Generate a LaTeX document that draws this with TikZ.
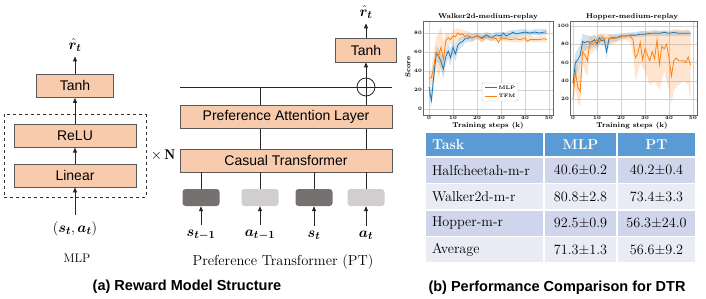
\documentclass[tikz,border=0pt]{standalone}
\usepackage{fontspec}
\usepackage{bm}
\usepackage{xcolor}
\usetikzlibrary{arrows.meta, positioning, fit, calc}
\newfontfamily\arialfont{Liberation Sans}
\definecolor{peach}{HTML}{F8CBAD}
\definecolor{edgegray}{HTML}{595959}
\definecolor{tokdark}{HTML}{767171}
\definecolor{toklight}{HTML}{D0CECE}
\definecolor{mplblue}{HTML}{1F77B4}
\definecolor{mplorange}{HTML}{FF7F0E}
\definecolor{hdrblue}{HTML}{5B9BD5}
\definecolor{rowdark}{HTML}{CFD5EA}
\definecolor{rowlight}{HTML}{E9EBF5}
\tikzstyle{block} = [rectangle, minimum height=23pt, text centered, draw=edgegray, fill=peach,
                     line width=0.8pt, inner sep=0pt, font=\arialfont\fontsize{14}{16}\selectfont]
\tikzstyle{token} = [rectangle, rounded corners=3pt, minimum width=37pt, minimum height=17pt, inner sep=0pt]
\tikzstyle{arrow} = [-{Triangle[length=5pt, width=4pt]}, line width=0.8pt, draw=black!85]
\tikzstyle{link} = [line width=0.8pt, draw=black!85]
\tikzstyle{sym} = [font=\fontsize{15}{17}\selectfont, inner sep=1pt]
\tikzstyle{cell} = [rectangle, draw=white, line width=1.5pt, minimum height=26.5pt, inner sep=0pt,
                    font=\fontsize{14.2}{16}\selectfont]
\tikzstyle{ticklab} = [font=\bfseries\fontsize{5}{6}\selectfont, inner sep=1pt]
\tikzstyle{axtitle} = [font=\bfseries\fontsize{7}{8}\selectfont, inner sep=1pt]
\tikzstyle{gridline} = [black!18, line width=0.4pt]
\tikzstyle{frame} = [black!60, line width=0.5pt]

\begin{document}
\begin{tikzpicture}[x=1pt, y=-1pt]
    \useasboundingbox (0,0) rectangle (706,299);

    % MLP
    \node[block, minimum width=122pt] (linear) at (75,175.5) {Linear};
    \node[block, minimum width=122pt, above=16pt of linear] (relu) {ReLU};
    \node[block, minimum width=77pt, above=26pt of relu] (tanh) {Tanh};
    \node[draw=black!80, dashed, line width=0.8pt, inner sep=9.5pt, fit=(relu) (linear)] (stack) {};
    \node[right=1pt of stack, font=\fontsize{14}{16}\selectfont] (times) {$\times\,\mathbf{N}$};
    \node[sym] (rhat) at (75,45) {$\bm{\hat{r}_t}$};
    \node[sym] (input) at (75,229) {$(\bm{s_t}, \bm{a_t})$};
    \node[font=\fontsize{12.3}{14}\selectfont] (mlpname) at (77,258) {MLP};

    \draw[arrow, shorten <=6pt] (input) -- (linear);
    \draw[arrow] (linear) -- (relu);
    \draw[arrow] (relu) -- (tanh);
    \draw[arrow, shorten >=4pt] (tanh) -- (rhat);

    % PT
    \node[block, minimum width=212pt] (casual) at (286,160.5) {Casual Transformer};
    \node[block, minimum width=212pt, above=20pt of casual] (attn) {Preference Attention Layer};
    \node[draw=black!85, line width=0.8pt, circle, minimum size=18pt, inner sep=0pt] (plus) at (366,87) {};
    \node[block, minimum width=61pt, minimum height=24pt] (tanhpt) at (366,50) {Tanh};
    \node[sym] (rhatpt) at (366,12) {$\bm{\hat{r}_t}$};
    \node[font=\fontsize{14.5}{16}\selectfont] (ptname) at (283,262) {Preference Transformer\,\,(PT)};

    \foreach \x/\name/\col/\lab in {201/s1/tokdark/{\bm{s_{t-1}}}, 260/a1/toklight/{\bm{a_{t-1}}},
                                    314/s2/tokdark/{\bm{s_t}}, 366/a2/toklight/{\bm{a_t}}} {
        \node[token, fill=\col] (tok-\name) at (\x,197.5) {};
        \node[sym] (lab-\name) at (\x,235) {$\lab$};
        \draw[arrow, shorten <=4pt] (lab-\name) -- (tok-\name);
        \draw[link] (tok-\name) -- (tok-\name |- casual.south);
    }

    \draw[link] (tok-a1 |- casual.north) -- (tok-a1 |- attn.south);
    \draw[link] (tok-a2 |- casual.north) -- (tok-a2 |- attn.south);
    \draw[link] (tok-a1 |- attn.north) -- (tok-a1 |- plus);
    \draw[link] (attn.west |- plus) -- (attn.east |- plus);
    \draw[arrow] (tok-a2 |- attn.north) -- (tanhpt);
    \draw[arrow, shorten >=4pt] (tanhpt) -- (rhatpt);

    % Captions
    \node[font=\arialfont\bfseries\fontsize{14.5}{16}\selectfont] (capa) at (187,287) {(a) Reward Model Structure};
    \node[font=\arialfont\bfseries\fontsize{14.5}{16}\selectfont] (capb) at (557,288) {(b) Performance Comparison for DTR};

    % Walker2d plot
    \begin{scope}[shift={(429,109)}, x=2.4pt, y=0.95pt]
        \foreach \v in {0,10,...,50} {
            \draw[gridline] (\v,-6.3) -- (\v,92.6);
            \node[ticklab, anchor=north] at (\v,-6.3) {\v};
        }
        \foreach \v in {0,20,...,80} {
            \draw[gridline] (-2.5,\v) -- (51.7,\v);
            \node[ticklab, anchor=east] at (-2.5,\v) {\v};
        }
        \fill[mplblue, opacity=0.2] plot coordinates {(0,30)(1,20)(2,45)(3,66)(4,64)(5,58)(6,52)(7,63)(8,69)
            (9,63)(10,72)(11,67)(12,74)(13,75)(14,76)(15,78)(16,78)(18,79)(20,80)(22,79)(24,81)(26,79)(28,81)
            (30,81)(32,81)(34,83)(36,83)(38,84)(40,84)(42,83)(44,84)(46,84)(48,84)(49,84)
            (49,78)(48,78)(46,77)(44,78)(42,77)(40,78)(38,76)(36,75)(34,75)(32,73)(30,73)(28,75)(26,71)(24,74)
            (22,71)(20,74)(18,71)(16,70)(15,70)(14,66)(13,64)(12,60)(11,50)(10,58)(9,46)(8,53)(7,47)(6,32)
            (5,42)(4,48)(3,50)(2,25)(1,2)(0,16)} -- cycle;
        \fill[mplorange, opacity=0.2] plot coordinates {(0,38)(1,42)(2,60)(3,75)(4,80)(5,87)(6,70)(7,80)(8,80)
            (9,79)(10,82)(11,84)(12,85)(13,84)(14,83)(16,82)(18,79)(20,80)(22,78)(24,79)(26,78)(28,77)(30,78)
            (34,76)(38,76)(40,78)(44,76)(48,77)(49,76)
            (49,70)(48,71)(44,70)(40,72)(38,70)(34,70)(30,72)(28,71)(26,72)(24,73)(22,70)(20,74)(18,71)(16,74)
            (14,75)(13,72)(12,75)(11,68)(10,72)(9,67)(8,70)(7,64)(6,35)(5,45)(4,32)(3,45)(2,30)(1,25)(0,28)} -- cycle;
        \draw[mplblue, line width=0.8pt] plot coordinates {(0,23)(1,9)(2,35)(3,58)(4,56)(5,50)(6,42)(7,55)(8,61)
            (9,54)(10,65)(11,58)(12,67)(13,70)(14,71)(15,74)(16,74)(17,76)(18,75)(20,77)(22,75)(24,78)(26,75)
            (28,78)(30,77)(31,80)(32,77)(34,79)(35,81)(36,79)(38,80)(40,81)(42,80)(44,81)(46,80)(48,81)(49,81)};
        \draw[mplorange, line width=0.8pt] plot coordinates {(0,32)(1,33)(2,45)(3,60)(4,56)(5,65)(6,52)(7,72)
            (8,75)(9,73)(10,77)(11,76)(12,80)(13,78)(14,79)(15,76)(16,78)(17,76)(18,75)(20,77)(22,74)(24,76)
            (26,75)(28,74)(29,70)(30,75)(32,74)(34,73)(36,74)(38,73)(40,75)(41,71)(42,73)(44,73)(46,73)(48,74)(49,73)};
        \draw[frame] (-2.5,-6.3) rectangle (51.7,92.6);
        \node[axtitle, anchor=south] (walktitle) at (24.6,92.6) {Walker2d-medium-replay};
        \node[axtitle] (walkx) at (24.6,-17.9) {Training steps (k)};
        \node[axtitle, rotate=90] (walky) at (-8.8,44) {Score};
    \end{scope}

    % Legend
    \node[draw=black!25, fill=white, rounded corners=1pt, minimum width=36pt, minimum height=18pt] (legend) at (500,92) {};
    \draw[mplblue, line width=0.8pt] (485,87.5) -- (497,87.5);
    \draw[mplorange, line width=0.8pt] (485,96) -- (497,96);
    \node[ticklab] (legmlp) at (507,87.5) {MLP};
    \node[ticklab] (legtfm) at (507,96) {TFM};

    % Hopper plot
    \begin{scope}[shift={(573,117.25)}, x=2.4pt, y=0.9125pt]
        \foreach \v in {0,10,...,50} {
            \draw[gridline] (\v,2.5) -- (\v,105.5);
            \node[ticklab, anchor=north] at (\v,2.5) {\v};
        }
        \foreach \v in {20,40,...,100} {
            \draw[gridline] (-1.25,\v) -- (51.7,\v);
            \node[ticklab, anchor=east] at (-1.25,\v) {\v};
        }
        \begin{scope}
            \clip (-1.25,2.5) rectangle (51.7,105.5);
            \fill[mplblue, opacity=0.2] plot coordinates {(0,45)(1,70)(2,75)(3,80)(4,92)(5,90)(6,90)(7,89)(8,89)
                (9,91)(10,87)(11,92)(12,90)(13,90)(14,82)(15,91)(16,91)(18,91)(20,92)(24,93)(28,94)(32,95)(36,95)
                (40,95)(44,95)(49,95)
                (49,89)(44,89)(40,89)(36,89)(32,89)(28,88)(24,87)(20,86)(18,83)(16,83)(15,80)(14,63)(13,79)(12,78)
                (11,80)(10,72)(9,78)(8,76)(7,74)(6,75)(5,73)(4,72)(3,55)(2,50)(1,45)(0,30)} -- cycle;
            \fill[mplorange, opacity=0.2] plot coordinates {(0,35)(1,65)(2,55)(3,50)(4,85)(5,82)(6,80)(7,90)(8,88)
                (9,89)(10,90)(12,92)(14,92)(16,90)(18,90)(20,91)(22,92)(24,92)(25,92)(26,90)(28,95)(30,94)(32,93)
                (34,96)(36,94)(38,96)(40,92)(42,97)(44,96)(46,95)(48,97)(49,90)
                (49,20)(48,35)(46,40)(44,35)(42,30)(41,15)(40,30)(38,50)(36,30)(34,40)(32,35)(30,50)(28,60)(26,40)
                (25,70)(24,82)(22,85)(20,84)(18,82)(16,80)(14,80)(12,82)(10,78)(9,74)(8,70)(7,70)(6,45)(5,50)
                (4,58)(3,12)(2,15)(1,35)(0,10)} -- cycle;
        \end{scope}
        \draw[mplblue, line width=0.8pt] plot coordinates {(0,37)(1,60)(2,63)(3,68)(4,83)(5,82)(6,83)(7,82)(8,83)
            (9,85)(10,80)(11,87)(12,84)(13,85)(14,72)(15,86)(16,87)(18,87)(20,89)(22,89)(24,90)(26,90)(28,91)
            (30,91)(32,92)(34,92)(36,92)(38,93)(40,92)(42,93)(44,92)(46,92)(48,92)(49,92)};
        \draw[mplorange, line width=0.8pt] plot coordinates {(0,20)(1,50)(2,33)(3,28)(4,72)(5,68)(6,62)(7,82)
            (8,80)(9,82)(10,85)(11,82)(12,88)(13,86)(14,87)(16,86)(18,87)(20,88)(22,89)(23,90)(24,88)(25,85)
            (26,65)(27,70)(28,82)(29,63)(30,75)(31,68)(32,62)(33,72)(34,64)(35,85)(36,58)(37,78)(38,75)(39,80)
            (40,65)(41,45)(42,62)(43,65)(44,62)(46,62)(47,60)(48,66)(49,57)};
        \draw[frame] (-1.25,2.5) rectangle (51.7,105.5);
        \node[axtitle, anchor=south] (hoptitle) at (24.6,105.5) {Hopper-medium-replay};
        \node[axtitle] (hopx) at (24.6,-9.8) {Training steps (k)};
    \end{scope}

    % Table
    \node[cell, fill=hdrblue, minimum width=119pt, minimum height=25pt, text width=105pt, inner xsep=7pt,
          align=left, text=white, font=\bfseries\fontsize{14.2}{16}\selectfont] (h-task) at (484.5,144.5) {Task};
    \node[cell, fill=hdrblue, minimum width=73pt, minimum height=25pt, text=white,
          font=\bfseries\fontsize{14.2}{16}\selectfont] (h-mlp) at (580.5,144.5) {MLP};
    \node[cell, fill=hdrblue, minimum width=79pt, minimum height=25pt, text=white,
          font=\bfseries\fontsize{14.2}{16}\selectfont] (h-pt) at (656.5,144.5) {PT};
    \foreach \task/\mlp/\pt/\shade [count=\r, evaluate=\r as \ypos using 143.75+26.5*\r] in
        {Halfcheetah-m-r/40.6±0.2/40.2±0.4/rowdark, Walker2d-m-r/80.8±2.8/73.4±3.3/rowlight,
         Hopper-m-r/92.5±0.9/56.3±24.0/rowdark, Average/71.3±1.3/56.6±9.2/rowlight} {
        \node[cell, fill=\shade, minimum width=119pt, text width=105pt, inner xsep=7pt, align=left]
            (task-\r) at (484.5,\ypos) {\task};
        \node[cell, fill=\shade, minimum width=73pt] (mlp-\r) at (580.5,\ypos) {\mlp};
        \node[cell, fill=\shade, minimum width=79pt] (pt-\r) at (656.5,\ypos) {\pt};
    }
\end{tikzpicture}
\end{document}
